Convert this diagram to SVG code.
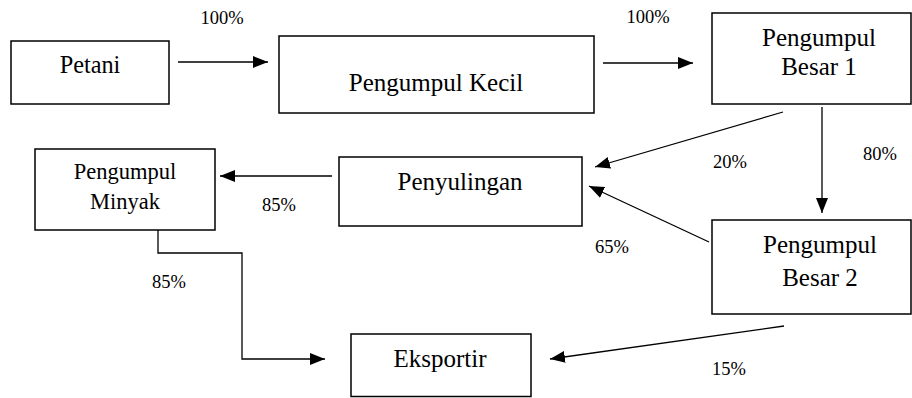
<svg xmlns="http://www.w3.org/2000/svg" width="912" height="398" viewBox="0 0 912 398">
<style>
.box{fill:#fff;stroke:#000;stroke-width:1.5}
text{font-family:'Liberation Serif','Times New Roman',Times,serif;fill:#000;text-anchor:middle}
.lbl{font-size:25px}
.sm{font-size:22.5px}
.pct{font-size:18.5px}
.con{fill:none;stroke:#000;stroke-width:1.3}
</style>
<defs>
<marker id="ah" viewBox="0 0 15 12" refX="15" refY="6" markerWidth="15" markerHeight="12" markerUnits="userSpaceOnUse" orient="auto">
<path d="M0,0 L15,6 L0,12 Z" fill="#000"/>
</marker>
</defs>
<rect width="912" height="398" fill="#fff"/>
<g font-family="Liberation Serif, Times New Roman, serif">
<g id="petani">
<rect class="box" x="11" y="41" width="158" height="63"/>
<text class="lbl" x="90" y="73" style="font-size:24.3px">Petani</text>
</g>
<g id="pengumpul-kecil">
<rect class="box" x="279" y="36" width="315" height="77"/>
<text class="lbl" x="436" y="91">Pengumpul Kecil</text>
</g>
<g id="pengumpul-besar-1">
<rect class="box" x="712" y="13" width="199" height="91"/>
<text class="lbl" x="819" y="46">Pengumpul</text>
<text class="lbl" x="819" y="75">Besar 1</text>
</g>
<g id="pengumpul-minyak">
<rect class="box" x="35" y="149" width="180" height="81"/>
<text class="sm" x="125" y="179">Pengumpul</text>
<text class="sm" x="125" y="209">Minyak</text>
</g>
<g id="penyulingan">
<rect class="box" x="339" y="157" width="243" height="69"/>
<text class="lbl" x="460" y="190">Penyulingan</text>
</g>
<g id="pengumpul-besar-2">
<rect class="box" x="712" y="220" width="199" height="94"/>
<text class="lbl" x="820" y="253">Pengumpul</text>
<text class="lbl" x="820" y="286">Besar 2</text>
</g>
<g id="eksportir">
<rect class="box" x="351" y="334" width="180" height="62.5"/>
<text class="lbl" x="440" y="367">Eksportir</text>
</g>
<g id="connectors">
<line class="con" x1="178" y1="62" x2="268" y2="62" marker-end="url(#ah)"/>
<line class="con" x1="603" y1="63" x2="693" y2="63" marker-end="url(#ah)"/>
<line class="con" x1="783" y1="112" x2="595" y2="167" marker-end="url(#ah)"/>
<line class="con" x1="822" y1="107" x2="822" y2="213" marker-end="url(#ah)"/>
<line class="con" x1="709" y1="242" x2="589" y2="186" marker-end="url(#ah)"/>
<line class="con" x1="332" y1="176" x2="220" y2="176" marker-end="url(#ah)"/>
<polyline class="con" points="158,230 158,253 242,253 242,359 325,359" marker-end="url(#ah)"/>
<line class="con" x1="784" y1="326" x2="550" y2="359" marker-end="url(#ah)"/>
</g>
<g id="labels">
<text class="pct" x="222" y="24">100%</text>
<text class="pct" x="648" y="23">100%</text>
<text class="pct" x="730" y="168">20%</text>
<text class="pct" x="880" y="160">80%</text>
<text class="pct" x="279" y="211">85%</text>
<text class="pct" x="612" y="253">65%</text>
<text class="pct" x="169" y="288">85%</text>
<text class="pct" x="729" y="375">15%</text>
</g>
</g>
</svg>
